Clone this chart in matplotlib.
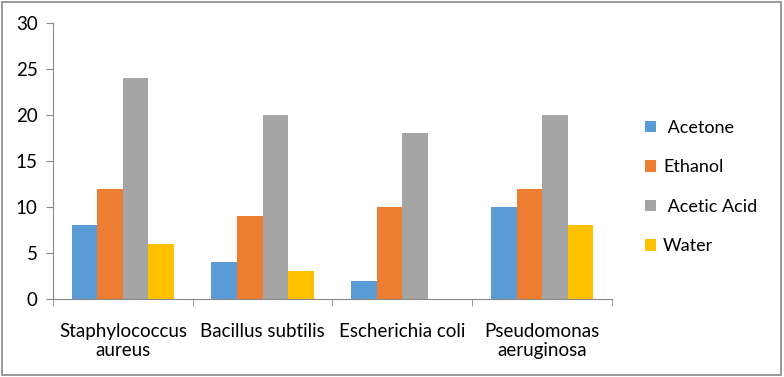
import numpy as np
import matplotlib
matplotlib.use('Agg')
import matplotlib.pyplot as plt

# data
categories = ['Staphylococcus\naureus', 'Bacillus subtilis', 'Escherichia coli', 'Pseudomonas\naeruginosa']
series_names = [' Acetone', 'Ethanol', ' Acetic Acid', 'Water']
acetone = [8, 4, 2, 10]
ethanol = [12, 9, 10, 12]
acetic_acid = [24, 20, 18, 20]
water = [6, 3, 0, 8]
colors = ['#5B9BD5', '#ED7D31', '#A5A5A5', '#FFC000']

plt.rcParams['font.family'] = ['Lato', 'DejaVu Sans']

fig = plt.figure(figsize=(7.84, 3.77), dpi=100)
ax = fig.add_axes([0.0676, 0.207, 0.713, 0.732])

x = np.arange(len(categories))
w = 0.183
for i, (vals, name, c) in enumerate(zip([acetone, ethanol, acetic_acid, water], series_names, colors)):
    ax.bar(x + (i - 1.5) * w, vals, width=w, color=c, label=name)

ax.set_xlim(-0.5, 3.5)
ax.set_ylim(0, 30)
ax.set_yticks([0, 5, 10, 15, 20, 25, 30])
ax.set_xticks(x)
ax.set_xticklabels(categories, fontsize=13.5, linespacing=1.15)
ax.set_xticks([-0.5, 0.5, 1.5, 2.5, 3.5], minor=True)
ax.tick_params(axis='x', which='major', length=0, pad=17)
ax.tick_params(axis='x', which='minor', length=5, color='#888888', direction='out')
ax.tick_params(axis='y', labelsize=13.5, length=5, color='#888888', pad=6)
for s in ['top', 'right']:
    ax.spines[s].set_visible(False)
for s in ['left', 'bottom']:
    ax.spines[s].set_color('#888888')

ax.legend(loc='center left', bbox_to_anchor=(1.03, 0.405), frameon=False, fontsize=13,
          handlelength=0.6, handleheight=0.6, labelspacing=1.3, handletextpad=0.4)

# outer border of the chart area
fig.patches.append(plt.Rectangle((0.002, 0.004), 0.994, 0.992, transform=fig.transFigure,
                                 fill=False, edgecolor='#888888', linewidth=1.2))

fig.savefig('out.png', dpi=100)
